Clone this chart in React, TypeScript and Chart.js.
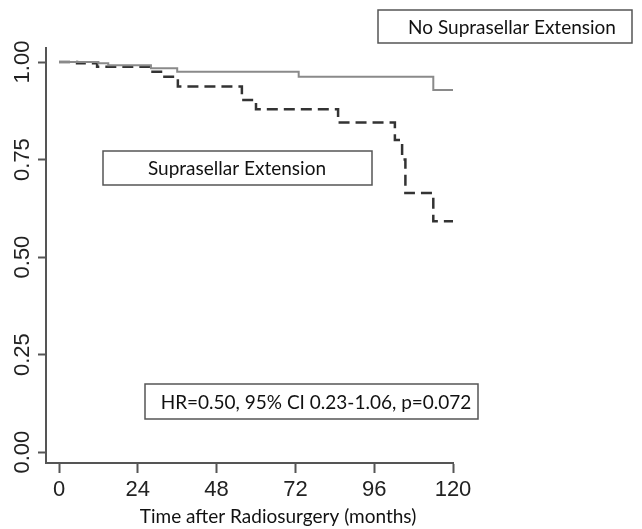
import React, { useEffect, useRef } from "react";
import { Chart, registerables } from "chart.js";

Chart.register(...registerables);

// ---- data ----
const xTicks = [0, 24, 48, 72, 96, 120];
const yTicks = [0, 0.25, 0.5, 0.75, 1.0];
const yTickLabels = ["0.00", "0.25", "0.50", "0.75", "1.00"];

// No suprasellar extension (solid)
const noExtTimes = [0, 12, 15, 28, 36, 73, 114, 120];
const noExtSurv = [1.0, 0.997, 0.992, 0.984, 0.975, 0.962, 0.928, 0.928];

// Suprasellar extension (dashed)
const extTimes = [0, 5.5, 11.6, 27.7, 31.7, 36.2, 55.7, 60, 85, 102.3, 104.5, 105.5, 114, 120];
const extSurv = [1.0, 0.997, 0.988, 0.975, 0.962, 0.937, 0.903, 0.879, 0.845, 0.8, 0.75, 0.664, 0.592, 0.592];

const labelNoExt = "No Suprasellar Extension";
const labelExt = "Suprasellar Extension";
const statsText = "HR=0.50, 95% CI 0.23-1.06, p=0.072";
const xTitle = "Time after Radiosurgery (months)";

const NUM_FONT = '"Liberation Sans Narrow", "Liberation Sans", Arial, sans-serif';
const BOX_FONT = 'Lato, "Open Sans", sans-serif';

const annotPlugin = {
  id: "annot",
  afterDraw(chart: any) {
    const ctx = chart.ctx as CanvasRenderingContext2D;
    const yScale = chart.scales.y;
    ctx.save();
    // y tick labels (rotated, R style)
    ctx.fillStyle = "#222";
    ctx.font = `22px ${NUM_FONT}`;
    yTicks.forEach((v, i) => {
      const py = yScale.getPixelForValue(v);
      ctx.save();
      ctx.translate(29, py);
      ctx.rotate(-Math.PI / 2);
      ctx.textAlign = "center";
      ctx.textBaseline = "alphabetic";
      ctx.fillText(yTickLabels[i], 0, 0);
      ctx.restore();
    });

    const box = (x0: number, y0: number, x1: number, y1: number, text: string, cx: number) => {
      ctx.save();
      ctx.fillStyle = "#fff";
      ctx.fillRect(x0, y0, x1 - x0, y1 - y0);
      ctx.strokeStyle = "#555";
      ctx.lineWidth = 1.5;
      ctx.strokeRect(x0, y0, x1 - x0, y1 - y0);
      ctx.fillStyle = "#111";
      ctx.font = `19px ${BOX_FONT}`;
      ctx.textAlign = "center";
      ctx.textBaseline = "middle";
      ctx.fillText(text, cx, (y0 + y1) / 2 + 1);
      ctx.restore();
    };
    box(378, 10, 632, 43, labelNoExt, 512);
    box(103, 151, 372, 185, labelExt, 237);
    box(145, 384, 478, 419, statsText, 316);

    // x axis title
    ctx.fillStyle = "#111";
    ctx.font = `19px ${BOX_FONT}`;
    ctx.textAlign = "center";
    ctx.textBaseline = "alphabetic";
    ctx.fillText(xTitle, 278, 523);
    ctx.restore();
  },
};

export default function App() {
  const ref = useRef<HTMLCanvasElement | null>(null);
  useEffect(() => {
    if (!ref.current) return;
    const chart = new Chart(ref.current, {
      type: "line",
      data: {
        datasets: [
          {
            label: labelNoExt,
            data: noExtTimes.map((t, i) => ({ x: t, y: noExtSurv[i] })),
            stepped: "before",
            borderColor: "#8a8a8a",
            borderWidth: 2,
            pointRadius: 0,
            fill: false,
          },
          {
            label: labelExt,
            data: extTimes.map((t, i) => ({ x: t, y: extSurv[i] })),
            stepped: "before",
            borderColor: "#333",
            borderWidth: 2.5,
            borderDash: [11, 6],
            pointRadius: 0,
            fill: false,
          },
        ],
      },
      options: {
        responsive: false,
        animation: false,
        layout: { padding: { top: 48, right: 189, left: 0, bottom: 0 } },
        plugins: { legend: { display: false }, tooltip: { enabled: false } },
        scales: {
          x: {
            type: "linear",
            min: -3.96,
            max: 120,
            afterBuildTicks: (s: any) => {
              s.ticks = xTicks.map((v) => ({ value: v }));
            },
            afterFit: (s: any) => {
              s.height = 66;
            },
            grid: { drawOnChartArea: false, drawTicks: true, tickLength: 10, tickWidth: 2, tickColor: "#555" },
            border: { display: true, color: "#555", width: 2 },
            ticks: {
              autoSkip: false,
              maxRotation: 0,
              padding: 4,
              color: "#222",
              font: { family: NUM_FONT, size: 22 },
              callback: (v: any) => String(v),
            },
          },
          y: {
            type: "linear",
            min: -0.028,
            max: 1.036,
            afterBuildTicks: (s: any) => {
              s.ticks = yTicks.map((v) => ({ value: v }));
            },
            afterFit: (s: any) => {
              s.width = 46;
            },
            grid: { drawOnChartArea: false, drawTicks: true, tickLength: 8, tickWidth: 2, tickColor: "#555" },
            border: { display: true, color: "#555", width: 2 },
            ticks: { display: false },
          },
        },
      },
      plugins: [annotPlugin],
    });
    return () => chart.destroy();
  }, []);
  return (
    <div style={{ position: "absolute", left: 0, top: 0, width: 642, height: 529, background: "#fff" }}>
      <canvas ref={ref} width={642} height={529} />
    </div>
  );
}
